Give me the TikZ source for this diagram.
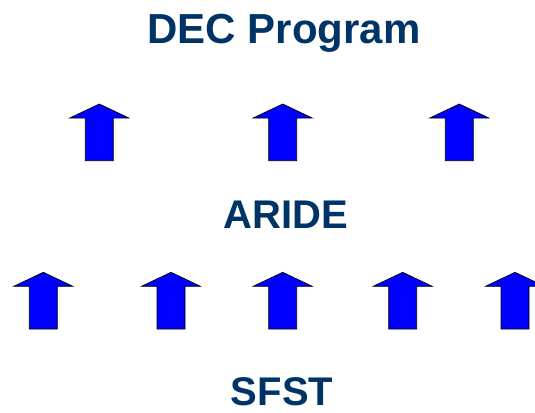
\documentclass[tikz,border=0pt]{standalone}
\usepackage{fontspec}
\setmainfont{Liberation Sans}
\definecolor{navy}{RGB}{0,51,102}
\definecolor{arrowblue}{RGB}{0,0,255}
\tikzset{
  x=1pt, y=-1pt,
  level/.style={font=\bfseries\fontsize{40}{40}\selectfont, text=navy, anchor=base, inner sep=0pt},
  toplevel/.style={level, font=\bfseries\fontsize{42}{42}\selectfont},
  blockarrow/.style={fill=arrowblue, draw=black, line width=0.7pt, line join=miter},
  pics/uparrow/.style={code={
    \path[blockarrow] (0,0) -- (29.5,14) -- (14,14) -- (14,56.7)
      -- (-14,56.7) -- (-14,14) -- (-29.5,14) -- cycle;
  }}
}
\begin{document}
\begin{tikzpicture}
\useasboundingbox (0,0) rectangle (535,412);
\clip (0,0) rectangle (535,412);
% level labels
\node[toplevel] (dec) at (284,43.3) {DEC Program};
\node[level] (aride) at (286,228.3) {ARIDE};
\node[level] (sfst) at (282,405.5) {SFST};
% arrows from ARIDE up to DEC Program
\pic at (99.3,104) {uparrow};
\pic at (282.7,104) {uparrow};
\pic at (459.3,104) {uparrow};
% arrows from SFST up to ARIDE
\pic at (43.3,272.3) {uparrow};
\pic at (171,272.3) {uparrow};
\pic at (282.7,272.3) {uparrow};
\pic at (402.7,272.3) {uparrow};
\pic at (515,272.3) {uparrow};
\end{tikzpicture}
\end{document}
